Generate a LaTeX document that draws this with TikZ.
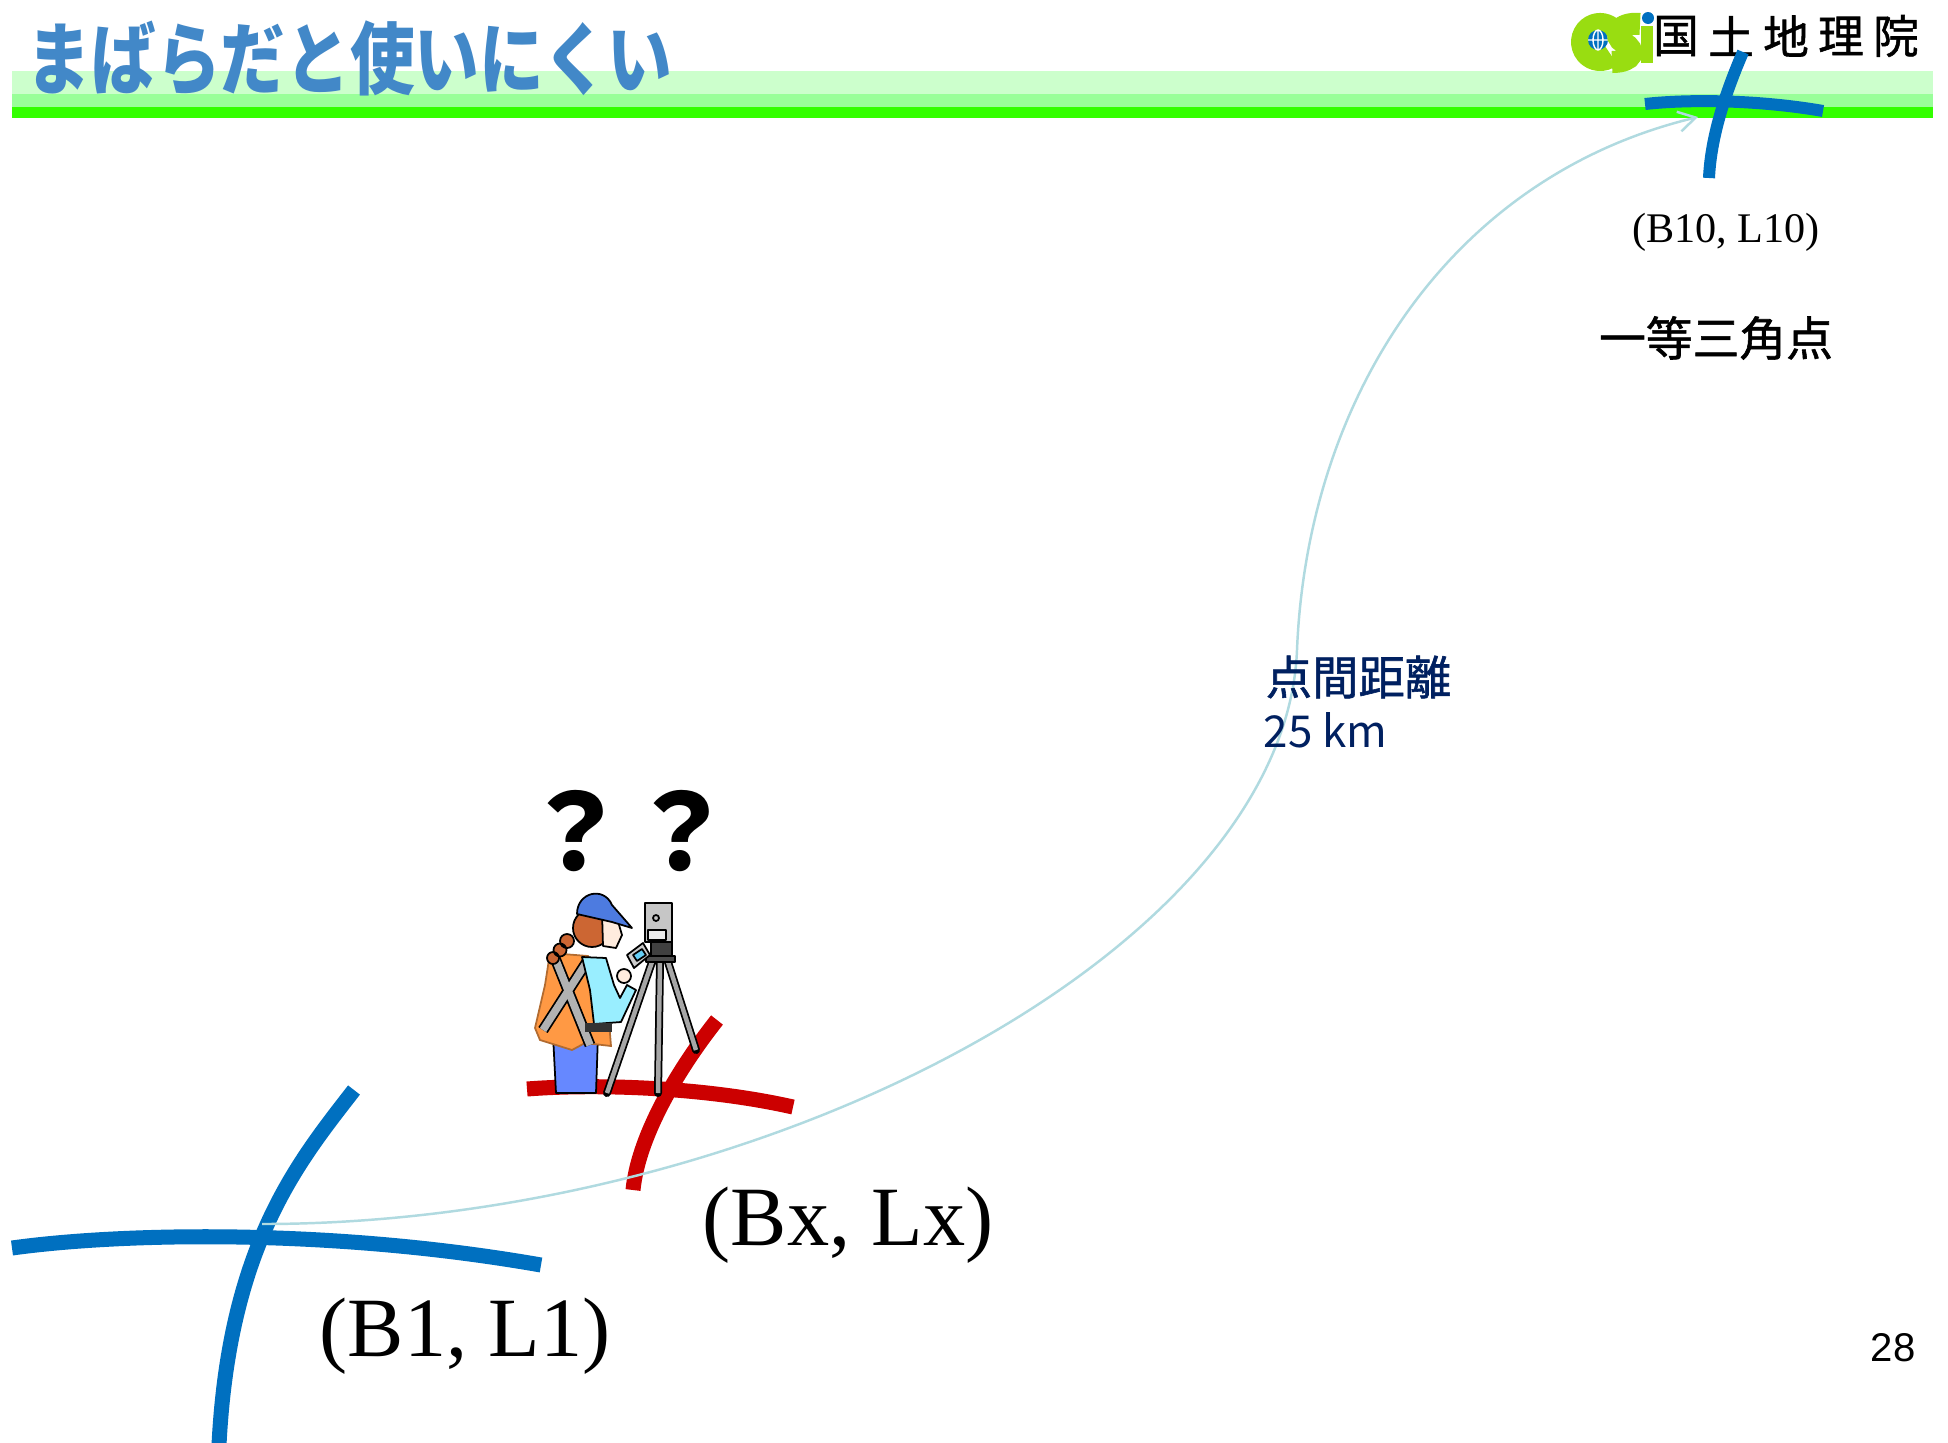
\documentclass[tikz,border=0pt]{standalone}
\usepackage{fontspec}
\setmainfont{Liberation Serif}
\newfontfamily\jpfont{Noto Sans CJK JP}
\newfontfamily\jpsemi[FakeBold=1.2]{Noto Sans CJK JP}
\newfontfamily\arialfont{Liberation Sans}
\usetikzlibrary{arrows.meta}

\definecolor{gsiblue}{RGB}{0,112,192}
\definecolor{gsired}{RGB}{204,0,0}
\definecolor{titleblue}{RGB}{66,136,200}
\definecolor{navy}{RGB}{0,32,96}
\definecolor{curvecol}{RGB}{176,218,224}
\definecolor{bandA}{RGB}{204,255,204}
\definecolor{bandB}{RGB}{153,255,153}
\definecolor{bandC}{RGB}{51,255,0}
\definecolor{logogreen}{RGB}{153,221,17}
\definecolor{pants}{RGB}{102,136,255}
\definecolor{vest}{RGB}{255,153,68}
\definecolor{shirt}{RGB}{153,238,255}
\definecolor{hair}{RGB}{204,102,51}
\definecolor{skin}{RGB}{255,236,222}
\definecolor{cap}{RGB}{77,123,224}

\begin{document}
\begin{tikzpicture}[
    x=0.01cm, y=-0.01cm,
    >={Straight Barb[length=1.7mm,width=2mm]},
    malla/.style={line width=1.5mm, line cap=butt},
    outline/.style={draw=black, line width=0.5pt, line join=round},
    leg/.style={line width=0.8mm, line cap=round},
    every node/.style={inner sep=0pt}
  ]

  \useasboundingbox (0,0) rectangle (1948,1442);
  \fill[white] (0,0) rectangle (1948,1442);

  % Banda de cabecera
  \fill[bandA] (12,71) rectangle (1933,94);
  \fill[bandB] (12,94) rectangle (1933,107);
  \fill[bandC] (12,107) rectangle (1933,118);

  % Titulo
  \node[anchor=west, text=titleblue, font=\jpfont\bfseries\fontsize{18.4pt}{20pt}\selectfont]
    (title) at (26,58) {\scalebox{1}[1.22]{まばらだと使いにくい}};

  % Logo
  \draw[logogreen, line width=2.4mm] (1611,55) arc (50:310:17);
  \fill[gsiblue] (1598,40) circle (10);
  \draw[white, line width=0.4pt] (1588,40) -- (1608,40) (1598,30) -- (1598,50)
    (1598,40) ellipse (5 and 10);
  \draw[logogreen, line width=2.2mm] (1640,24) .. controls (1618,22) and (1612,36) .. (1624,43)
    .. controls (1636,50) and (1634,62) .. (1612,62);
  \fill[logogreen] (1641,26) rectangle (1653,63);
  \fill[gsiblue] (1648,18) circle (6);
  \foreach \ch [count=\i] in {国,土,地,理,院}
    \node[font=\jpsemi\fontsize{13pt}{15pt}\selectfont] (gsi-\i) at ({1676+55*(\i-1)},36) {\ch};

  % Puntos de la malla
  \coordinate (b1) at (262,1224);
  \coordinate (mid) at (1297,650);
  \coordinate (b10) at (1698,117);

  \draw[malla, gsiblue] (12,1248) .. controls (120,1233) and (330,1228) .. (541,1265);
  \draw[malla, gsiblue] (354,1090) .. controls (299,1161) and (229,1245) .. (219,1445);

  \draw[malla, gsired] (527,1089) .. controls (590,1084) and (700,1086) .. (793,1107);
  \draw[malla, gsired] (717,1020) .. controls (686,1059) and (639,1130) .. (633,1190);

  \draw[gsiblue, line width=1.2mm] (1645,104) .. controls (1690,99) and (1760,100) .. (1823,111);
  \draw[gsiblue, line width=1.2mm] (1743,52) .. controls (1728,87) and (1711,133) .. (1709,178);

  % Distancia entre puntos
  \draw[->, curvecol, line width=0.7pt] (b1) .. controls +(500,0) and +(-12,300) .. (mid)
    .. controls +(10,-250) and +(-250,60) .. (b10);

  % Textos
  \node[font=\fontsize{12pt}{14pt}\selectfont] (lbl10) at (1726,232) {(B10, L10)};
  \node[font=\jpsemi\fontsize{13.3pt}{15pt}\selectfont] (sankaku) at (1716,338) {一等三角点};
  \node[anchor=west, text=navy, font=\jpsemi\fontsize{13.2pt}{15pt}\selectfont] (kyori) at (1265,677) {点間距離};
  \node[anchor=west, text=navy, font=\jpfont\fontsize{12.5pt}{15pt}\selectfont] (km) at (1263,730) {25 km};
  \node[font=\fontsize{24pt}{28pt}\selectfont] (lblx) at (848,1225) {(Bx, Lx)};
  \node[font=\fontsize{24pt}{28pt}\selectfont] (lbl1) at (465,1336) {(B1, L1)};
  \node[font=\arialfont\fontsize{11.4pt}{13pt}\selectfont] (page) at (1893,1348) {28};
  \node[font=\jpfont\bfseries\fontsize{30pt}{32pt}\selectfont] (qq) at (628,831) {？？};

  % Observadora
  \filldraw[fill=pants, outline] (553,1035) -- (598,1035) -- (596,1093) -- (556,1093) -- cycle;
  \filldraw[fill=vest, draw=vest!70!black, line width=0.5pt] (550,953) -- (588,956) -- (606,985)
    -- (611,1046) -- (585,1043) -- (572,1050) -- (540,1040) -- (535,1028) -- (545,985) -- cycle;
  \draw[black, line width=1.1mm] (555,958) -- (590,1045) (588,960) -- (543,1030);
  \draw[gray!60, line width=0.75mm] (555,958) -- (590,1045) (588,960) -- (543,1030);
  \filldraw[fill=shirt, outline] (582,957) -- (606,958) -- (614,985) -- (620,998) -- (627,985)
    -- (636,990) -- (621,1022) -- (594,1024) -- (590,990) -- cycle;
  \fill[black!80] (585,1023) rectangle (612,1032);
  \filldraw[fill=hair, outline] (592,928) circle (19);
  \filldraw[fill=hair, outline] (567,941) circle (7) (560,950) circle (6.5) (553,958) circle (6);
  \filldraw[fill=skin, outline] (602,912) -- (617,918) -- (622,935) -- (616,948) -- (603,946) -- cycle;
  \filldraw[fill=cap, outline] (577,914) .. controls (577,892) and (604,886) .. (612,905)
    -- (632,928) -- (612,922) -- cycle;

  % Estacion total y tripode
  \draw[black, leg] (652,962) -- (607,1093) (660,962) -- (658,1093) (668,962) -- (696,1050);
  \draw[gray!70, line width=0.45mm] (652,962) -- (607,1093) (660,962) -- (658,1093) (668,962) -- (696,1050);
  \filldraw[fill=gray!45, outline] (645,903) rectangle (672,942);
  \filldraw[fill=gray!15, outline] (648,930) rectangle (666,940);
  \draw[outline] (656,918) circle (3);
  \filldraw[fill=darkgray, outline] (651,942) rectangle (672,956);
  \filldraw[fill=black!70, outline] (646,956) rectangle (675,962);
  \filldraw[fill=skin, outline] (624,976) circle (7);
  \filldraw[fill=gray!40, outline] (627,955) -- (643,943) -- (650,955) -- (634,968) -- cycle;
  \filldraw[fill=cyan!60, outline] (633,955) -- (642,949) -- (646,955) -- (637,961) -- cycle;

\end{tikzpicture}
\end{document}
